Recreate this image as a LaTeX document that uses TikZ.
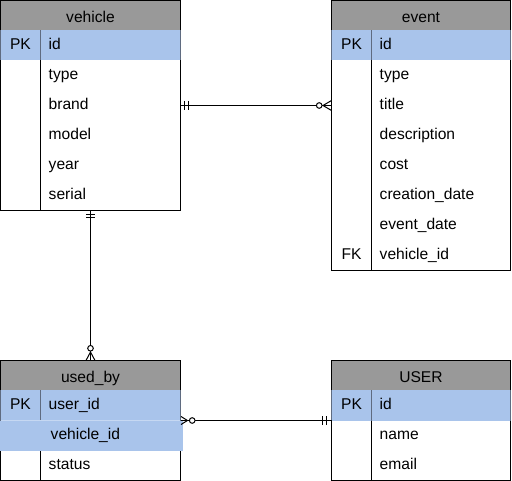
\documentclass[tikz,border=0pt]{standalone}
\usepackage{fontspec}
\setmainfont{Liberation Sans}
\usetikzlibrary{calc}
\definecolor{hdrgray}{HTML}{999999}
\definecolor{pkblue}{HTML}{A9C4EB}
\definecolor{pkline}{HTML}{5F6B80}
\definecolor{seplight}{HTML}{C6D8F2}
\newcommand{\erfs}{\fontsize{15.6}{18}\selectfont}
\tikzset{
  tbl/.style={draw=black, line width=1pt, inner sep=0pt, outer sep=0pt, anchor=north west},
  htxt/.style={anchor=base, inner sep=0pt, font=\erfs},
  ktxt/.style={anchor=base, inner sep=0pt, font=\erfs},
  ftxt/.style={anchor=base west, inner sep=0pt, font=\erfs},
  conn/.style={line width=1pt, line cap=butt},
  opencirc/.style={line width=1pt, draw=black, fill=white},
  divl/.style={line width=1pt, draw=black},
  pkdiv/.style={line width=1pt, draw=pkline},
}
\begin{document}
\begin{tikzpicture}[x=1pt,y=-1pt]
\useasboundingbox (0,0) rectangle (512,481);

% ---------------- vehicle ----------------
\fill[hdrgray] (0.5,0.5) rectangle (180.5,30.5);
\fill[pkblue] (0.5,30.5) rectangle (180.5,60.5);
\node[tbl, minimum width=180pt, minimum height=210pt] (vehicle) at (0.5,0.5) {};
\draw[divl] (40.5,60.5) -- (40.5,210.5);
\draw[pkdiv] (40.5,30.5) -- (40.5,60.5);
\draw[pkdiv] (0.5,30.5) -- (0.5,60.5);
\draw[pkdiv] (180.5,30.5) -- (180.5,60.5);
\node[htxt] (vehicleh) at (90.5,22.6) {vehicle};
\node[ktxt] (vehiclepk) at (20.5,49.8) {PK};
\node[ftxt] (vid) at (48.5,49.8) {id};
\node[ftxt] (vtype) at (48.5,79.8) {type};
\node[ftxt] (vbrand) at (48.5,109.8) {brand};
\node[ftxt] (vmodel) at (48.5,139.8) {model};
\node[ftxt] (vyear) at (48.5,169.8) {year};
\node[ftxt] (vserial) at (48.5,199.8) {serial};

% ---------------- event ----------------
\fill[hdrgray] (331.5,0.5) rectangle (510.5,30.5);
\fill[pkblue] (331.5,30.5) rectangle (510.5,60.5);
\node[tbl, minimum width=179pt, minimum height=270pt] (event) at (331.5,0.5) {};
\draw[divl] (371.5,60.5) -- (371.5,270.5);
\draw[pkdiv] (371.5,30.5) -- (371.5,60.5);
\draw[pkdiv] (331.5,30.5) -- (331.5,60.5);
\draw[pkdiv] (510.5,30.5) -- (510.5,60.5);
\node[htxt] (eventh) at (421,22.6) {event};
\node[ktxt] (eventpk) at (351.5,49.8) {PK};
\node[ftxt] (eid) at (379.5,49.8) {id};
\node[ftxt] (etype) at (379.5,79.8) {type};
\node[ftxt] (etitle) at (379.5,109.8) {title};
\node[ftxt] (edesc) at (379.5,139.8) {description};
\node[ftxt] (ecost) at (379.5,169.8) {cost};
\node[ftxt] (ecreat) at (379.5,199.8) {creation\_date};
\node[ftxt] (edate) at (379.5,229.8) {event\_date};
\node[ktxt] (eventfk) at (351.5,259.8) {FK};
\node[ftxt] (evid) at (379.5,259.8) {vehicle\_id};

% ---------------- used_by ----------------
\fill[hdrgray] (0.5,360.5) rectangle (180.5,390.5);
\fill[pkblue] (0.5,390.5) rectangle (180.5,420.5);
\node[tbl, minimum width=180pt, minimum height=120pt] (usedby) at (0.5,360.5) {};
\draw[divl] (40.5,450.5) -- (40.5,480.5);
\draw[pkdiv] (40.5,390.5) -- (40.5,420.5);
\draw[pkdiv] (0.5,390.5) -- (0.5,420.5);
\draw[pkdiv] (180.5,390.5) -- (180.5,420.5);
\fill[pkblue] (0,420.5) rectangle (183,450.5);
\draw[line width=1pt, seplight] (1,420.5) -- (180,420.5);
\node[htxt] (usedbyh) at (90.5,382.6) {used\_by};
\node[ktxt] (usedbypk) at (20.5,409.8) {PK};
\node[ftxt] (uuid) at (48.5,409.8) {user\_id};
\node[ftxt] (uvid) at (50.5,439.8) {vehicle\_id};
\node[ftxt] (ustatus) at (48.5,469.8) {status};

% ---------------- USER ----------------
\fill[hdrgray] (331.5,360.5) rectangle (510.5,390.5);
\fill[pkblue] (331.5,390.5) rectangle (510.5,420.5);
\node[tbl, minimum width=179pt, minimum height=120pt] (user) at (331.5,360.5) {};
\draw[divl] (371.5,420.5) -- (371.5,480.5);
\draw[pkdiv] (371.5,390.5) -- (371.5,420.5);
\draw[pkdiv] (331.5,390.5) -- (331.5,420.5);
\draw[pkdiv] (510.5,390.5) -- (510.5,420.5);
\node[htxt] (userh) at (421,382.6) {USER};
\node[ktxt] (userpk) at (351.5,409.8) {PK};
\node[ftxt] (usid) at (379.5,409.8) {id};
\node[ftxt] (usname) at (379.5,439.8) {name};
\node[ftxt] (usemail) at (379.5,469.8) {email};

% ---------------- connectors ----------------
% vehicle -- event (one mandatory to zero-or-many)
\coordinate (ve) at (vehicle.east);
\coordinate (ew) at (event.west |- vehicle.east);
\draw[conn] (ve) -- (ew);
\draw[conn] ($(ve)+(4.2,-4.5)$) -- ++(0,9);
\draw[conn] ($(ve)+(7.7,-4.5)$) -- ++(0,9);
\draw[conn] ($(ew)+(0,-5)$) -- ($(ew)+(-8.5,0)$) -- ($(ew)+(0,5)$);
\draw[opencirc] ($(ew)+(-12.3,0)$) circle (2.8);

% vehicle -- used_by
\coordinate (vs) at (vehicle.south);
\coordinate (un) at (usedby.north);
\draw[conn] (vs) -- (un);
\draw[conn] ($(vs)+(-4.5,3.8)$) -- ++(9,0);
\draw[conn] ($(vs)+(-4.5,7.3)$) -- ++(9,0);
\draw[conn] ($(un)+(-4.5,0)$) -- ($(un)+(0,-8.5)$) -- ($(un)+(4.5,0)$);
\draw[opencirc] ($(un)+(0,-12.2)$) circle (2.8);

% used_by -- USER
\coordinate (ue) at (usedby.east);
\coordinate (sw) at (user.west);
\draw[conn] (ue) -- (sw);
\draw[conn] ($(ue)+(0.5,-4)$) -- ($(ue)+(7,0)$) -- ($(ue)+(0.5,4)$);
\draw[opencirc] ($(ue)+(11.7,0)$) circle (2.8);
\draw[conn] ($(sw)+(-8.8,-4.5)$) -- ++(0,9);
\draw[conn] ($(sw)+(-5.3,-4.5)$) -- ++(0,9);
\end{tikzpicture}
\end{document}
